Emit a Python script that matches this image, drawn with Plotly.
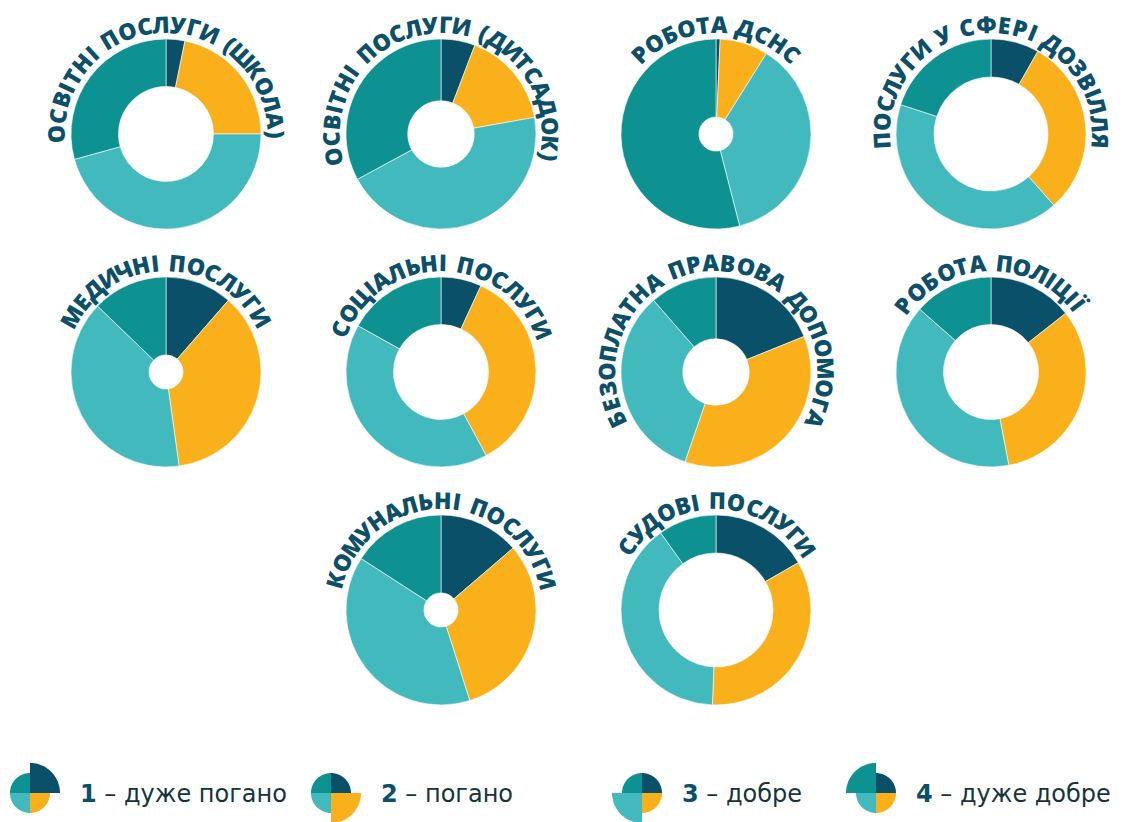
import numpy as np
import plotly.graph_objects as go

W, H = 1141, 822
OFF = 8  # the page body keeps its default 8px margin

# Survey: rating of public services, share of answers (%)
services = [
    'ОСВІТНІ ПОСЛУГИ (ШКОЛА)',
    'ОСВІТНІ ПОСЛУГИ (ДИТСАДОК)',
    'РОБОТА ДСНС',
    'ПОСЛУГИ У СФЕРІ ДОЗВІЛЛЯ',
    'МЕДИЧНІ ПОСЛУГИ',
    'СОЦІАЛЬНІ ПОСЛУГИ',
    'БЕЗОПЛАТНА ПРАВОВА ДОПОМОГА',
    'РОБОТА ПОЛІЦІЇ',
    'КОМУНАЛЬНІ ПОСЛУГИ',
    'СУДОВІ ПОСЛУГИ',
]
very_bad = [3.2, 5.8, 0.7, 8.2, 11.4, 6.9, 18.9, 14.4, 13.7, 16.7]
bad = [21.8, 16.4, 8.2, 30.3, 36.4, 35.2, 36.4, 32.6, 31.4, 33.9]
good = [45.7, 44.9, 37.1, 41.5, 39.4, 41.0, 33.3, 39.5, 39.0, 39.5]
very_good = [29.3, 32.9, 54.0, 20.0, 12.8, 16.9, 11.4, 13.5, 15.9, 9.9]
hole_sizes = [0.5, 0.35, 0.18, 0.6, 0.18, 0.5, 0.35, 0.5, 0.18, 0.6]

scores = ['1', '2', '3', '4']
score_names = ['дуже погано', 'погано', 'добре', 'дуже добре']

COLORS = ['#0b5069', '#f9b01a', '#42babd', '#0e9191']
NAVY = '#0b4f68'
TEXT_DARK = '#16343c'
LABEL_FONT = 'Open Sans, sans-serif'
LEGEND_FONT = 'DejaVu Sans, sans-serif'

# grid of donuts (pixel centres), 4 + 4 + 2
col_x = [166, 441, 716, 991]
row_y = [134, 372, 610]
slots = [(0, 0), (0, 1), (0, 2), (0, 3), (1, 0), (1, 1), (1, 2), (1, 3), (2, 1), (2, 2)]
R_PIE = 95

# rough relative glyph widths of a wide bold sans, used to space the arc labels
CHAR_W = {
    ' ': 0.28, '(': 0.36, ')': 0.36, 'І': 0.30, 'Ї': 0.30, 'Г': 0.56, 'Т': 0.58,
    'Е': 0.62, 'З': 0.62, 'У': 0.66, 'Ь': 0.66, 'Р': 0.68, 'Б': 0.68, 'Ч': 0.68,
    'С': 0.70, 'В': 0.70, 'К': 0.70, 'Я': 0.70, 'Л': 0.72, 'А': 0.72, 'П': 0.76,
    'Д': 0.76, 'Н': 0.78, 'И': 0.78, 'Ц': 0.78, 'О': 0.80, 'М': 0.88, 'Ф': 0.92,
    'Ш': 1.00,
}


def px_x(x):
    return (x - OFF) / W


def px_y(y):
    return 1 - (y - OFF) / H


def arc_label(fig, text, cx, cy, radius=110, size=20, spacing=3.2):
    widths = np.array([CHAR_W.get(c, 0.7) * size + spacing for c in text])
    pos = np.cumsum(widths) - widths / 2
    pos -= (pos[0] + pos[-1]) / 2
    for ch, s in zip(text, pos):
        if ch == ' ':
            continue
        a = s / radius
        fig.add_annotation(
            x=px_x(cx + radius * np.sin(a)), y=px_y(cy - radius * np.cos(a)),
            xref='paper', yref='paper', text=ch, textangle=float(np.degrees(a)),
            showarrow=False, xanchor='center', yanchor='middle',
            font=dict(family=LABEL_FONT, size=23, color=NAVY, weight=800),
        )


def quadrant_path(cx, cy, r, a0, a1, n=24):
    pts = [(cx, cy)]
    for a in np.linspace(a0, a1, n):
        pts.append((cx + r * np.sin(a), cy - r * np.cos(a)))
    return 'M ' + ' L '.join('{:.5f},{:.5f}'.format(px_x(x), px_y(y)) for x, y in pts) + ' Z'


fig = go.Figure()

for i, name in enumerate(services):
    row, col = slots[i]
    cx, cy = col_x[col], row_y[row]
    fig.add_trace(go.Pie(
        values=[very_bad[i], bad[i], good[i], very_good[i]],
        labels=scores,
        marker=dict(colors=COLORS, line=dict(color='white', width=0.6)),
        hole=hole_sizes[i],
        sort=False,
        direction='clockwise',
        rotation=0,
        textinfo='none',
        hovertemplate=name + '<br>%{label}: %{value}%<extra></extra>',
        domain=dict(x=[px_x(cx - R_PIE), px_x(cx + R_PIE)],
                    y=[px_y(cy + R_PIE), px_y(cy - R_PIE)]),
        showlegend=False,
    ))
    arc_label(fig, name, cx, cy)

# legend: four quarter-circle icons, the matching quarter is enlarged
legend_x = [30, 331, 642, 876]
legend_y = 793
for k in range(4):
    cx = legend_x[k]
    for q in range(4):
        r = 30 if q == k else 20
        fig.add_shape(type='path', xref='paper', yref='paper',
                      path=quadrant_path(cx, legend_y, r, q * np.pi / 2, (q + 1) * np.pi / 2),
                      fillcolor=COLORS[q], line=dict(width=0), layer='above')
    right = 30 if k in (0, 1) else 20
    fig.add_annotation(
        x=px_x(cx + right + 18), y=px_y(legend_y + 1), xref='paper', yref='paper',
        text="<span style='color:{}'><b>{}</b></span> – {}".format(NAVY, scores[k], score_names[k]),
        showarrow=False, xanchor='left', yanchor='middle',
        font=dict(family=LEGEND_FONT, size=24, color=TEXT_DARK),
    )

fig.update_layout(
    width=W, height=H,
    margin=dict(l=0, r=0, t=0, b=0),
    paper_bgcolor='white',
    plot_bgcolor='white',
)

fig.write_html('out.html')
